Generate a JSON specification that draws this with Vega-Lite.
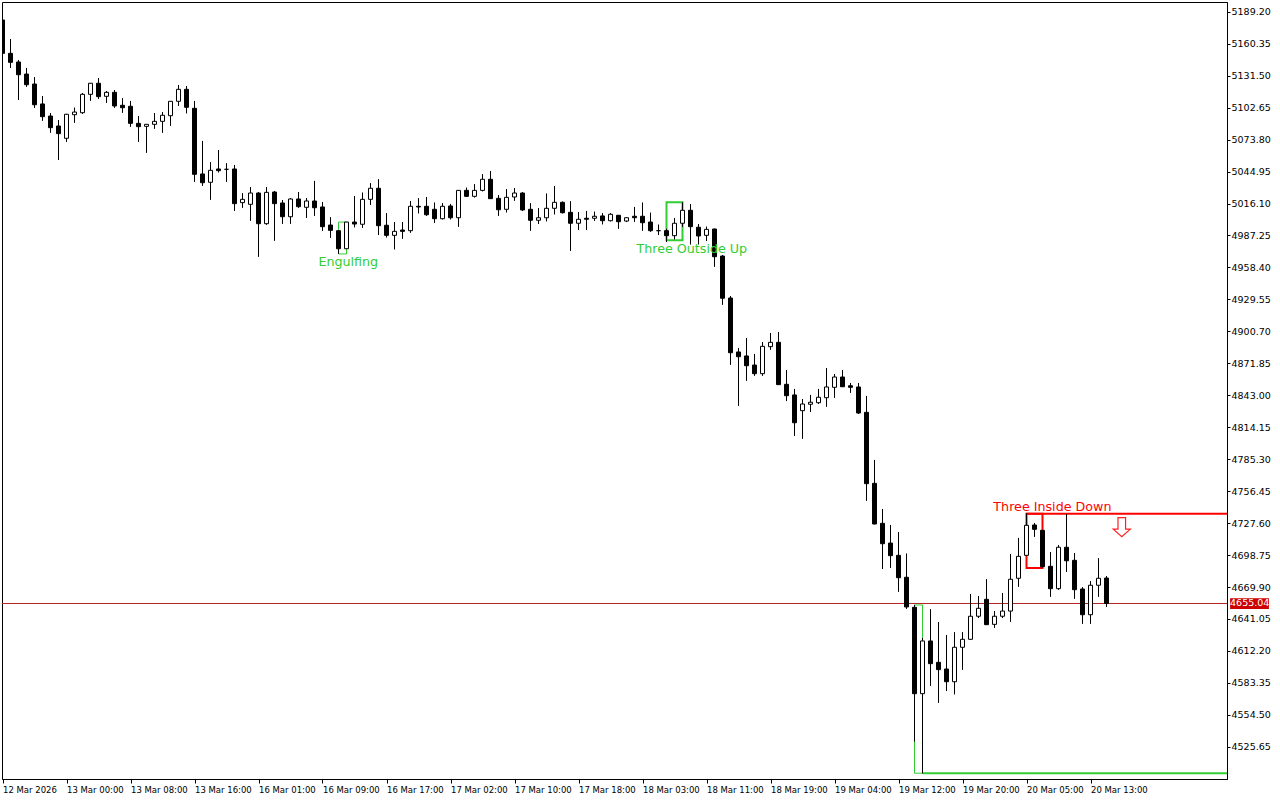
{
  "$schema": "https://vega.github.io/schema/vega-lite/v6.json",
  "width": 1225,
  "height": 777,
  "autosize": {"type": "none"},
  "padding": {"left": 2, "top": 2, "right": 53, "bottom": 21},
  "background": "white",
  "config": {
    "view": {"stroke": "black", "strokeWidth": 1},
    "axis": {"title": null, "grid": false, "domainColor": "black", "tickColor": "black", "labelColor": "black", "labelFont": "DejaVu Sans", "labelFontSize": 9, "labelOverlap": false, "labelBound": false, "labelFlush": false},
    "axisX": {"labelFontSize": 8.5},
    "axisY": {"labelFontSize": 9.5, "labelOverlap": false}
  },
  "datasets": {
    "candles": [
      {"i":0,"o":5181.8,"h":5183.6,"l":5150.5,"c":5151.7},
      {"i":1,"o":5151.7,"h":5164.6,"l":5138.7,"c":5143.6},
      {"i":2,"o":5143.9,"h":5145.7,"l":5109.8,"c":5132.4},
      {"i":3,"o":5133.0,"h":5138.5,"l":5121.6,"c":5123.4},
      {"i":4,"o":5124.0,"h":5130.1,"l":5102.6,"c":5105.3},
      {"i":5,"o":5106.0,"h":5113.2,"l":5090.9,"c":5094.5},
      {"i":6,"o":5095.1,"h":5097.8,"l":5080.1,"c":5084.6},
      {"i":7,"o":5086.1,"h":5091.5,"l":5055.4,"c":5079.2},
      {"i":8,"o":5075.0,"h":5097.0,"l":5071.9,"c":5096.7},
      {"i":9,"o":5096.3,"h":5102.6,"l":5089.1,"c":5098.7},
      {"i":10,"o":5098.1,"h":5115.9,"l":5097.2,"c":5114.7},
      {"i":11,"o":5114.7,"h":5124.9,"l":5108.9,"c":5124.7},
      {"i":12,"o":5124.7,"h":5129.4,"l":5110.7,"c":5112.6},
      {"i":13,"o":5112.9,"h":5117.7,"l":5107.1,"c":5116.5},
      {"i":14,"o":5116.5,"h":5118.6,"l":5102.6,"c":5104.2},
      {"i":15,"o":5104.8,"h":5111.1,"l":5098.1,"c":5102.6},
      {"i":16,"o":5103.9,"h":5108.7,"l":5085.5,"c":5088.5},
      {"i":17,"o":5088.5,"h":5095.1,"l":5071.9,"c":5085.5},
      {"i":18,"o":5085.8,"h":5087.8,"l":5062.0,"c":5087.6},
      {"i":19,"o":5087.6,"h":5097.8,"l":5083.7,"c":5090.3},
      {"i":20,"o":5090.3,"h":5098.7,"l":5080.1,"c":5095.8},
      {"i":21,"o":5095.4,"h":5108.6,"l":5086.4,"c":5108.4},
      {"i":22,"o":5108.4,"h":5123.1,"l":5104.4,"c":5119.2},
      {"i":23,"o":5119.2,"h":5122.2,"l":5097.6,"c":5103.0},
      {"i":24,"o":5102.1,"h":5108.7,"l":5035.8,"c":5042.5},
      {"i":25,"o":5042.8,"h":5072.6,"l":5032.2,"c":5034.9},
      {"i":26,"o":5035.3,"h":5053.3,"l":5019.6,"c":5046.1},
      {"i":27,"o":5047.3,"h":5064.4,"l":5044.3,"c":5045.8},
      {"i":28,"o":5047.0,"h":5052.4,"l":5035.8,"c":5047.0},
      {"i":29,"o":5047.3,"h":5050.9,"l":5009.6,"c":5016.0},
      {"i":30,"o":5016.9,"h":5025.3,"l":5012.3,"c":5019.9},
      {"i":31,"o":5015.4,"h":5031.0,"l":5000.6,"c":5025.6},
      {"i":32,"o":5025.6,"h":5026.2,"l":4968.1,"c":4997.9},
      {"i":33,"o":4997.9,"h":5031.0,"l":4997.0,"c":5026.2},
      {"i":34,"o":5026.5,"h":5027.4,"l":4982.6,"c":5016.0},
      {"i":35,"o":5016.6,"h":5019.3,"l":4997.9,"c":5004.2},
      {"i":36,"o":5004.2,"h":5021.1,"l":4997.9,"c":5020.2},
      {"i":37,"o":5020.2,"h":5026.5,"l":5012.3,"c":5013.3},
      {"i":38,"o":5012.7,"h":5021.1,"l":5003.3,"c":5018.4},
      {"i":39,"o":5018.4,"h":5036.5,"l":5005.1,"c":5012.3},
      {"i":40,"o":5013.0,"h":5017.5,"l":4991.6,"c":4995.2},
      {"i":41,"o":4996.7,"h":5003.7,"l":4985.3,"c":4991.9},
      {"i":42,"o":4991.6,"h":4991.8,"l":4970.6,"c":4975.3},
      {"i":43,"o":4975.3,"h":4999.4,"l":4975.1,"c":4999.4},
      {"i":44,"o":4999.4,"h":5022.9,"l":4994.7,"c":4997.6},
      {"i":45,"o":4997.4,"h":5025.9,"l":4994.3,"c":5019.9},
      {"i":46,"o":5019.9,"h":5034.4,"l":5014.8,"c":5029.9},
      {"i":47,"o":5029.9,"h":5038.0,"l":4987.7,"c":4996.1},
      {"i":48,"o":4996.5,"h":5007.3,"l":4985.6,"c":4987.4},
      {"i":49,"o":4987.4,"h":4999.4,"l":4974.8,"c":4991.0},
      {"i":50,"o":4992.2,"h":4999.4,"l":4984.4,"c":4991.0},
      {"i":51,"o":4991.6,"h":5018.4,"l":4989.8,"c":5013.6},
      {"i":52,"o":5013.6,"h":5020.8,"l":5007.3,"c":5013.0},
      {"i":53,"o":5013.6,"h":5022.0,"l":5005.1,"c":5006.0},
      {"i":54,"o":5010.9,"h":5016.9,"l":4998.8,"c":5002.4},
      {"i":55,"o":5002.4,"h":5016.3,"l":5001.9,"c":5013.6},
      {"i":56,"o":5013.9,"h":5015.7,"l":5001.9,"c":5003.3},
      {"i":57,"o":5003.3,"h":5028.2,"l":4995.2,"c":5028.0},
      {"i":58,"o":5028.0,"h":5030.4,"l":5022.0,"c":5022.6},
      {"i":59,"o":5022.6,"h":5033.5,"l":5021.7,"c":5028.0},
      {"i":60,"o":5028.0,"h":5042.5,"l":5027.2,"c":5038.0},
      {"i":61,"o":5038.0,"h":5045.5,"l":5020.3,"c":5020.5},
      {"i":62,"o":5020.8,"h":5023.8,"l":5005.1,"c":5010.5},
      {"i":63,"o":5010.9,"h":5029.0,"l":5008.2,"c":5021.7},
      {"i":64,"o":5022.0,"h":5029.9,"l":5018.7,"c":5025.6},
      {"i":65,"o":5025.6,"h":5026.2,"l":5009.4,"c":5010.3},
      {"i":66,"o":5010.9,"h":5016.3,"l":4991.6,"c":5001.0},
      {"i":67,"o":5001.0,"h":5011.8,"l":4997.6,"c":5003.3},
      {"i":68,"o":5003.3,"h":5025.0,"l":5000.1,"c":5011.8},
      {"i":69,"o":5011.8,"h":5031.9,"l":5006.4,"c":5017.2},
      {"i":70,"o":5017.2,"h":5017.8,"l":5007.3,"c":5007.8},
      {"i":71,"o":5008.2,"h":5018.1,"l":4973.5,"c":4998.3},
      {"i":72,"o":4998.3,"h":5008.2,"l":4992.2,"c":5001.9},
      {"i":73,"o":5002.8,"h":5009.4,"l":4992.2,"c":5001.9},
      {"i":74,"o":5002.8,"h":5008.7,"l":5000.6,"c":5004.6},
      {"i":75,"o":5004.9,"h":5007.3,"l":4997.4,"c":5000.6},
      {"i":76,"o":5000.6,"h":5007.3,"l":5000.1,"c":5006.4},
      {"i":77,"o":5005.5,"h":5005.7,"l":4993.4,"c":4999.7},
      {"i":78,"o":5000.3,"h":5003.5,"l":4999.4,"c":5003.3},
      {"i":79,"o":5004.6,"h":5013.0,"l":4999.7,"c":5003.3},
      {"i":80,"o":5004.6,"h":5016.9,"l":4991.6,"c":4998.8},
      {"i":81,"o":4999.4,"h":5007.8,"l":4990.7,"c":4991.6},
      {"i":82,"o":4991.6,"h":4997.0,"l":4987.7,"c":4991.6},
      {"i":83,"o":4991.6,"h":4993.4,"l":4981.4,"c":4987.1},
      {"i":84,"o":4987.1,"h":5003.0,"l":4983.8,"c":4998.3},
      {"i":85,"o":4998.3,"h":5017.2,"l":4994.9,"c":5010.0},
      {"i":86,"o":5010.0,"h":5015.4,"l":4979.3,"c":4995.2},
      {"i":87,"o":4994.7,"h":4997.6,"l":4979.3,"c":4986.8},
      {"i":88,"o":4987.4,"h":4995.2,"l":4982.3,"c":4992.8},
      {"i":89,"o":4993.1,"h":4993.3,"l":4959.1,"c":4968.1},
      {"i":90,"o":4968.7,"h":4969.4,"l":4924.8,"c":4930.6},
      {"i":91,"o":4930.8,"h":4932.6,"l":4870.6,"c":4881.4},
      {"i":92,"o":4882.1,"h":4885.7,"l":4833.6,"c":4877.8},
      {"i":93,"o":4878.5,"h":4894.7,"l":4856.2,"c":4869.7},
      {"i":94,"o":4870.3,"h":4880.3,"l":4860.7,"c":4862.5},
      {"i":95,"o":4862.5,"h":4891.1,"l":4860.7,"c":4887.2},
      {"i":96,"o":4886.9,"h":4899.2,"l":4884.2,"c":4890.8},
      {"i":97,"o":4890.8,"h":4900.1,"l":4852.4,"c":4852.6},
      {"i":98,"o":4852.9,"h":4865.8,"l":4837.8,"c":4842.6},
      {"i":99,"o":4843.3,"h":4848.7,"l":4806.5,"c":4818.2},
      {"i":100,"o":4829.1,"h":4839.6,"l":4803.8,"c":4835.1},
      {"i":101,"o":4834.9,"h":4843.3,"l":4827.9,"c":4836.7},
      {"i":102,"o":4836.3,"h":4848.7,"l":4835.1,"c":4841.2},
      {"i":103,"o":4840.8,"h":4867.6,"l":4832.7,"c":4850.5},
      {"i":104,"o":4850.2,"h":4862.2,"l":4840.8,"c":4859.5},
      {"i":105,"o":4859.5,"h":4865.8,"l":4850.5,"c":4850.7},
      {"i":106,"o":4851.6,"h":4854.1,"l":4845.3,"c":4850.2},
      {"i":107,"o":4850.5,"h":4854.1,"l":4826.1,"c":4827.0},
      {"i":108,"o":4827.6,"h":4842.4,"l":4747.8,"c":4763.2},
      {"i":109,"o":4763.5,"h":4784.6,"l":4726.6,"c":4726.8},
      {"i":110,"o":4727.4,"h":4740.3,"l":4686.2,"c":4709.0},
      {"i":111,"o":4709.6,"h":4725.9,"l":4687.3,"c":4698.2},
      {"i":112,"o":4698.5,"h":4719.3,"l":4665.7,"c":4678.3},
      {"i":113,"o":4678.7,"h":4700.0,"l":4650.3,"c":4651.9},
      {"i":114,"o":4651.6,"h":4653.7,"l":4530.3,"c":4573.6},
      {"i":115,"o":4573.6,"h":4623.9,"l":4501.7,"c":4621.2},
      {"i":116,"o":4621.2,"h":4649.8,"l":4580.8,"c":4600.7},
      {"i":117,"o":4601.9,"h":4638.3,"l":4565.4,"c":4595.3},
      {"i":118,"o":4595.9,"h":4626.6,"l":4576.0,"c":4584.4},
      {"i":119,"o":4584.4,"h":4629.0,"l":4573.1,"c":4615.5},
      {"i":120,"o":4615.5,"h":4629.0,"l":4595.3,"c":4622.7},
      {"i":121,"o":4622.7,"h":4663.6,"l":4622.5,"c":4643.5},
      {"i":122,"o":4643.5,"h":4661.8,"l":4641.9,"c":4650.7},
      {"i":123,"o":4658.8,"h":4676.9,"l":4635.7,"c":4635.9},
      {"i":124,"o":4636.2,"h":4648.2,"l":4633.2,"c":4643.5},
      {"i":125,"o":4643.5,"h":4664.5,"l":4641.9,"c":4648.2},
      {"i":126,"o":4648.2,"h":4699.7,"l":4638.6,"c":4676.9},
      {"i":127,"o":4677.8,"h":4714.2,"l":4670.2,"c":4697.6},
      {"i":128,"o":4698.5,"h":4736.5,"l":4698.3,"c":4725.6},
      {"i":129,"o":4725.9,"h":4727.7,"l":4715.3,"c":4722.0},
      {"i":130,"o":4721.1,"h":4721.3,"l":4687.5,"c":4688.2},
      {"i":131,"o":4688.6,"h":4701.3,"l":4661.2,"c":4668.4},
      {"i":132,"o":4668.4,"h":4707.6,"l":4667.5,"c":4705.8},
      {"i":133,"o":4705.8,"h":4735.8,"l":4683.7,"c":4693.6},
      {"i":134,"o":4694.0,"h":4700.6,"l":4659.4,"c":4667.5},
      {"i":135,"o":4668.1,"h":4669.6,"l":4636.8,"c":4644.9},
      {"i":136,"o":4644.9,"h":4675.1,"l":4636.8,"c":4671.5},
      {"i":137,"o":4671.5,"h":4695.8,"l":4661.2,"c":4677.8},
      {"i":138,"o":4678.0,"h":4679.7,"l":4652.1,"c":4655.04}
    ]
  },
  "layer": [
    {
      "data": {"name": "candles"},
      "mark": {"type": "rule", "color": "black", "strokeWidth": 1, "clip": true},
      "encoding": {
        "x": {"field": "i", "type": "quantitative", "scale": {"domain": [-0.0625, 153.0625], "nice": false, "zero": false, "padding": 0},
          "axis": {"title": null, "values": [0,8,16,24,32,40,48,56,64,72,80,88,96,104,112,120,128,136], "tickCount": 100, "orient": "bottom", "tickSize": 4, "labelAlign": "left", "labelBaseline": "top", "labelPadding": 2, "labelDx": 1, "labelOverlap": false, "labelFlush": false,
            "labelExpr": "['12 Mar 2026','13 Mar 00:00','13 Mar 08:00','13 Mar 16:00','16 Mar 01:00','16 Mar 09:00','16 Mar 17:00','17 Mar 02:00','17 Mar 10:00','17 Mar 18:00','18 Mar 03:00','18 Mar 11:00','18 Mar 19:00','19 Mar 04:00','19 Mar 12:00','19 Mar 20:00','20 Mar 05:00','20 Mar 13:00'][round(datum.value/8)]"}},
        "y": {"field": "l", "type": "quantitative", "scale": {"domain": [4496.58, 5198.05], "nice": false, "zero": false, "padding": 0},
          "axis": {"title": null, "orient": "right", "values": [4525.65,4554.5,4583.35,4612.2,4641.05,4669.9,4698.75,4727.6,4756.45,4785.3,4814.15,4843.0,4871.85,4900.7,4929.55,4958.4,4987.25,5016.1,5044.95,5073.8,5102.65,5131.5,5160.35,5189.2], "tickCount": 100, "format": ".2f", "tickSize": 3, "labelPadding": 1, "labelOverlap": false, "labelFlush": false}},
        "y2": {"field": "h"}
      }
    },
    {
      "data": {"values": [{"p": 4655.04}]},
      "mark": {"type": "rule", "color": "#b22222", "strokeWidth": 1},
      "encoding": {
        "y": {"field": "p", "type": "quantitative", "scale": {"domain": [4496.58, 5198.05], "nice": false, "zero": false, "padding": 0}}
      }
    },
    {
      "data": {"values": [
        {"name": "Engulfing", "x1": 42, "x2": 43, "top": 4999.4, "bottom": 4970.6},
        {"name": "Hammer", "x1": 114, "x2": 115, "top": 4653.7, "bottom": 4501.8}
      ]},
      "mark": {"type": "rect", "filled": false, "stroke": "#32cd32", "strokeWidth": 1},
      "encoding": {
        "x": {"field": "x1", "type": "quantitative", "scale": {"domain": [-0.0625, 153.0625], "nice": false, "zero": false, "padding": 0}},
        "x2": {"field": "x2"},
        "y": {"field": "top", "type": "quantitative", "scale": {"domain": [4496.58, 5198.05], "nice": false, "zero": false, "padding": 0}},
        "y2": {"field": "bottom"}
      }
    },
    {
      "data": {"values": [{"name": "Three Outside Up", "x1": 83, "x2": 85, "top": 5017.2, "bottom": 4982.9}]},
      "mark": {"type": "rect", "filled": false, "stroke": "#32cd32", "strokeWidth": 2},
      "encoding": {
        "x": {"field": "x1", "type": "quantitative", "scale": {"domain": [-0.0625, 153.0625], "nice": false, "zero": false, "padding": 0}},
        "x2": {"field": "x2"},
        "y": {"field": "top", "type": "quantitative", "scale": {"domain": [4496.58, 5198.05], "nice": false, "zero": false, "padding": 0}},
        "y2": {"field": "bottom"}
      }
    },
    {
      "data": {"values": [{"name": "Three Inside Down", "x1": 128, "x2": 130, "top": 4736.0, "bottom": 4687.0}]},
      "mark": {"type": "rect", "filled": false, "stroke": "#ff0000", "strokeWidth": 2},
      "encoding": {
        "x": {"field": "x1", "type": "quantitative", "scale": {"domain": [-0.0625, 153.0625], "nice": false, "zero": false, "padding": 0}},
        "x2": {"field": "x2"},
        "y": {"field": "top", "type": "quantitative", "scale": {"domain": [4496.58, 5198.05], "nice": false, "zero": false, "padding": 0}},
        "y2": {"field": "bottom"}
      }
    },
    {
      "data": {"values": [{"x1": 115, "x2": 153.0625, "p": 4501.8}]},
      "mark": {"type": "rule", "color": "#32cd32", "strokeWidth": 2},
      "encoding": {
        "x": {"field": "x1", "type": "quantitative", "scale": {"domain": [-0.0625, 153.0625], "nice": false, "zero": false, "padding": 0}},
        "x2": {"field": "x2"},
        "y": {"field": "p", "type": "quantitative", "scale": {"domain": [4496.58, 5198.05], "nice": false, "zero": false, "padding": 0}}
      }
    },
    {
      "data": {"values": [{"x1": 128, "x2": 153.0625, "p": 4736.0}]},
      "mark": {"type": "rule", "color": "#ff0000", "strokeWidth": 2},
      "encoding": {
        "x": {"field": "x1", "type": "quantitative", "scale": {"domain": [-0.0625, 153.0625], "nice": false, "zero": false, "padding": 0}},
        "x2": {"field": "x2"},
        "y": {"field": "p", "type": "quantitative", "scale": {"domain": [4496.58, 5198.05], "nice": false, "zero": false, "padding": 0}}
      }
    },
    {
      "data": {"name": "candles"},
      "mark": {"type": "rule", "color": "black", "strokeWidth": 1, "clip": true},
      "encoding": {
        "x": {"field": "i", "type": "quantitative", "scale": {"domain": [-0.0625, 153.0625], "nice": false, "zero": false, "padding": 0}},
        "y": {"field": "l", "type": "quantitative", "scale": {"domain": [4496.58, 5198.05], "nice": false, "zero": false, "padding": 0}},
        "y2": {"field": "h"}
      }
    },
    {
      "data": {"name": "candles"},
      "mark": {"type": "bar", "width": 4, "stroke": "black", "strokeWidth": 1, "clip": true},
      "encoding": {
        "x": {"field": "i", "type": "quantitative", "scale": {"domain": [-0.0625, 153.0625], "nice": false, "zero": false, "padding": 0}},
        "y": {"field": "o", "type": "quantitative", "scale": {"domain": [4496.58, 5198.05], "nice": false, "zero": false, "padding": 0}},
        "y2": {"field": "c"},
        "fill": {"condition": {"test": "datum.o > datum.c", "value": "black"}, "value": "white"}
      }
    },
    {
      "data": {"values": [
        {"text": "Engulfing", "x": 43.22, "p": 4960.0},
        {"text": "Three Outside Up", "x": 86.16, "p": 4971.2}
      ]},
      "mark": {"type": "text", "color": "#32cd32", "font": "DejaVu Sans", "fontSize": 12.7, "align": "center", "baseline": "alphabetic"},
      "encoding": {
        "x": {"field": "x", "type": "quantitative", "scale": {"domain": [-0.0625, 153.0625], "nice": false, "zero": false, "padding": 0}},
        "y": {"field": "p", "type": "quantitative", "scale": {"domain": [4496.58, 5198.05], "nice": false, "zero": false, "padding": 0}},
        "text": {"field": "text"}
      }
    },
    {
      "data": {"values": [{"text": "Three Inside Down", "x": 131.24, "p": 4738.8}]},
      "mark": {"type": "text", "color": "#ff0000", "font": "DejaVu Sans", "fontSize": 12.7, "align": "center", "baseline": "alphabetic"},
      "encoding": {
        "x": {"field": "x", "type": "quantitative", "scale": {"domain": [-0.0625, 153.0625], "nice": false, "zero": false, "padding": 0}},
        "y": {"field": "p", "type": "quantitative", "scale": {"domain": [4496.58, 5198.05], "nice": false, "zero": false, "padding": 0}},
        "text": {"field": "text"}
      }
    },
    {
      "data": {"values": [{"x": 139.91, "p": 4723.9}]},
      "mark": {"type": "point", "shape": "M-0.4,-1L0.4,-1L0.4,0.2L0.9,0.2L0,1L-0.9,0.2L-0.4,0.2Z", "size": 361, "filled": true, "fill": "white", "stroke": "#ff2020", "strokeWidth": 1.2, "opacity": 1},
      "encoding": {
        "x": {"field": "x", "type": "quantitative", "scale": {"domain": [-0.0625, 153.0625], "nice": false, "zero": false, "padding": 0}},
        "y": {"field": "p", "type": "quantitative", "scale": {"domain": [4496.58, 5198.05], "nice": false, "zero": false, "padding": 0}}
      }
    },
    {
      "data": {"values": [{"x1": 153.45, "x2": 158.3, "top": 4659.7, "bottom": 4650.0}]},
      "mark": {"type": "rect", "fill": "#cc0000"},
      "encoding": {
        "x": {"field": "x1", "type": "quantitative", "scale": {"domain": [-0.0625, 153.0625], "nice": false, "zero": false, "padding": 0}},
        "x2": {"field": "x2"},
        "y": {"field": "top", "type": "quantitative", "scale": {"domain": [4496.58, 5198.05], "nice": false, "zero": false, "padding": 0}},
        "y2": {"field": "bottom"}
      }
    },
    {
      "data": {"values": [{"x": 155.9, "p": 4655.04, "text": "4655.04"}]},
      "mark": {"type": "text", "color": "white", "font": "DejaVu Sans", "fontSize": 9.5, "align": "center", "baseline": "middle"},
      "encoding": {
        "x": {"field": "x", "type": "quantitative", "scale": {"domain": [-0.0625, 153.0625], "nice": false, "zero": false, "padding": 0}},
        "y": {"field": "p", "type": "quantitative", "scale": {"domain": [4496.58, 5198.05], "nice": false, "zero": false, "padding": 0}},
        "text": {"field": "text"}
      }
    }
  ]
}
